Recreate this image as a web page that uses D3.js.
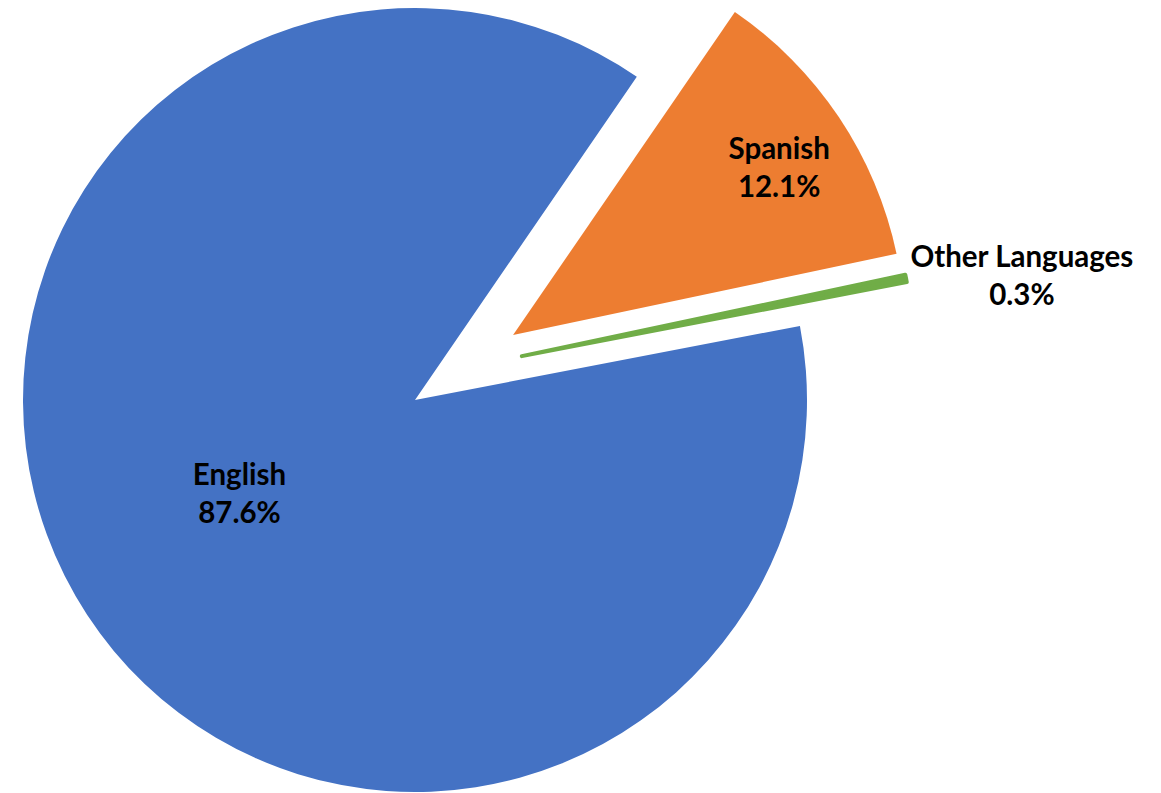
<!DOCTYPE html>
<html>
<head>
<meta charset="utf-8">
<script src="https://cdn.jsdelivr.net/npm/d3@7"></script>
<style>
  html, body { margin: 0; padding: 0; background: #ffffff; }
  svg { display: block; }
  text { font-family: Lato, "Open Sans", "Liberation Sans", sans-serif; font-weight: 700; fill: #000000; }
</style>
</head>
<body>
<svg id="chart" width="1161" height="793"></svg>
<script>
// ---- data ----
const categories = ["English", "Spanish", "Other Languages"];
const values = [87.6, 12.1, 0.3];
const valueLabels = ["87.6%", "12.1%", "0.3%"];
const colors = ["#4472C4", "#ED7D31", "#70AD47"];

// ---- layout ----
const width = 1161, height = 793;
const cx = 464.2, cy = 367.8;      // true pie centre
const R = 392;                       // radius
const explode = [58.8, 58.8, 58.8];  // explosion distance per slice
const edgeWidth = [0, 0, 4];         // outline in slice colour (keeps the thin slice visible)
const rad = Math.PI / 180;
const a0 = 79.1 * rad;               // first slice start angle (clockwise from 12 o'clock)
const labelDist = [204, 309, 505];   // label distance from slice vertex
const labelRot = [2.6, 3.2, 3.4];    // label angle adjustment (deg)
const fontSize = 29.5;
const lineGap = 19;

const svg = d3.select("#chart");

const pie = d3.pie().sort(null).value(d => d).startAngle(a0).endAngle(a0 + 2 * Math.PI);
const arcs = pie(values);
const arc = d3.arc().innerRadius(0).outerRadius(R);

const polar = (r, a) => [r * Math.sin(a), -r * Math.cos(a)];

const g = svg.append("g").attr("transform", `translate(${cx},${cy})`);

const slices = g.selectAll("g.slice")
  .data(arcs)
  .join("g")
  .attr("class", "slice")
  .attr("transform", (d, i) => {
    const [x, y] = polar(explode[i], (d.startAngle + d.endAngle) / 2);
    return `translate(${x},${y})`;
  });

slices.append("path")
  .attr("d", arc)
  .attr("fill", (d, i) => colors[i])
  .attr("stroke", (d, i) => edgeWidth[i] > 0 ? colors[i] : "none")
  .attr("stroke-width", (d, i) => edgeWidth[i])
  .attr("stroke-linejoin", "round");

slices.append("text")
  .attr("text-anchor", "middle")
  .style("font-size", fontSize + "px")
  .each(function (d, i) {
    const mid = (d.startAngle + d.endAngle) / 2 + labelRot[i] * rad;
    const [x, y] = polar(labelDist[i], mid);
    const t = d3.select(this);
    t.append("tspan").attr("x", x).attr("y", y - lineGap).text(categories[i]);
    t.append("tspan").attr("x", x).attr("y", y + lineGap).text(valueLabels[i]);
  });
</script>
</body>
</html>
